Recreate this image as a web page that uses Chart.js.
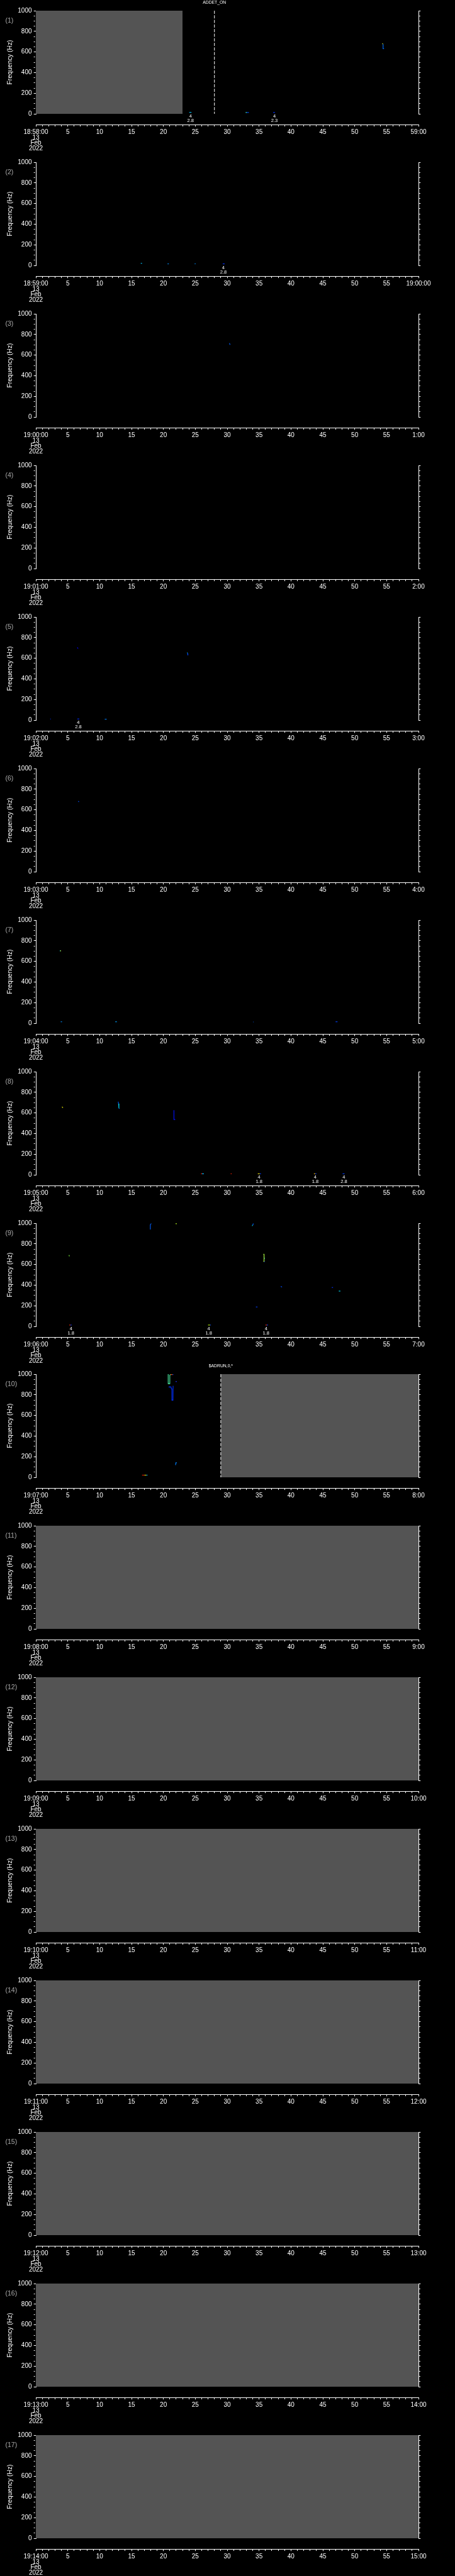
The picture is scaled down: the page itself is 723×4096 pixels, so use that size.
<!DOCTYPE html>
<html>
<head>
<meta charset="utf-8">
<script src="https://cdn.jsdelivr.net/npm/chart.js@4.4.0/dist/chart.umd.min.js"></script>
<style>
html, body { margin: 0; padding: 0; background: #000; }
#wrap { position: relative; width: 723px; height: 4096px; overflow: hidden; background: #000; }
canvas { position: absolute; left: 0; }
</style>
</head>
<body>
<div id="wrap"></div>
<script>
// time axis labels, one panel per minute
const panelStarts = ['18:58:00', '18:59:00', '19:00:00', '19:01:00', '19:02:00', '19:03:00', '19:04:00', '19:05:00', '19:06:00',
    '19:07:00', '19:08:00', '19:09:00', '19:10:00', '19:11:00', '19:12:00', '19:13:00', '19:14:00'];
const panelEnds = ['59:00', '19:00:00', '1:00', '2:00', '3:00', '4:00', '5:00', '6:00', '7:00',
    '8:00', '9:00', '10:00', '11:00', '12:00', '13:00', '14:00', '15:00'];
const dateLines = ['13', 'Feb', '2022'];

const freqMax = 1000, freqLabelStep = 200, freqMinorStep = 50;
const secMax = 60, secLabelStep = 5, secMinorStep = 1;

// no-data (gray) spans: panel index, from/to seconds
const grayPanel = [0, 9, 10, 11, 12, 13, 14, 15, 16];
const grayFrom = [0, 29, 0, 0, 0, 0, 0, 0, 0];
const grayTo = [23, 60, 60, 60, 60, 60, 60, 60, 60];

// dashed event markers
const markerPanel = [0, 9];
const markerTime = [28, 29];
const markerText = ['ADDET_ON', '$ADRUN,0,*'];

// small two-line notes under the plot
const notePanel = [0, 0, 1, 4, 7, 7, 7, 8, 8, 8];
const noteTime = [24.25, 37.4, 29.4, 6.65, 35.0, 43.8, 48.3, 5.5, 27.1, 36.1];
const noteTop = ['4', '4', '4', '4', '4', '4', '4', '4', '4', '4'];
const noteBottom = ['2.8', '2.3', '2.8', '2.8', '1.8', '1.8', '2.8', '1.8', '1.8', '1.8'];

// detected tones: panel, seconds, Hz, colour
const tracePanel = [0, 0, 0, 0, 0, 0,
    1, 1, 1, 1,
    2,
    4, 4, 4, 4, 4, 4,
    5,
    6, 6, 6, 6, 6, 6,
    7, 7, 7, 7, 7, 7, 7, 7, 7, 7, 7, 7, 7,
    8, 8, 8, 8, 8, 8, 8, 8, 8, 8, 8, 8, 8, 8, 8, 8, 8, 8,
    9, 9, 9, 9, 9, 9, 9, 9, 9];
const traceTime = [
    [24.05, 24.4], [32.9, 33.05], [33.05, 33.4], [37.2, 37.5], [54.33, 54.42], [54.45, 54.45, 54.6],
    [16.45, 16.65], [20.65, 20.85], [24.9, 25.05], [29.3, 29.6],
    [30.35, 30.45],
    [6.5, 6.62], [23.7, 23.8], [23.8, 23.82, 23.9], [2.25, 2.35], [6.5, 6.8], [10.8, 11.1],
    [6.65, 6.75],
    [3.75, 3.85], [3.85, 3.95], [3.9, 4.1], [12.45, 12.7], [34.08, 34.16], [47.0, 47.3],
    [4.1, 4.25], [12.92, 12.95], [12.98, 13.02], [13.02, 13.12], [21.65, 21.65, 21.85], [25.9, 26.05], [26.05, 26.35],
    [30.55, 30.7], [34.8, 35.1], [35.1, 35.3], [43.6, 43.8], [43.8, 44.0], [48.1, 48.4],
    [17.9, 17.95, 18.1], [21.9, 22.1], [33.9, 34.0], [34.0, 34.1], [35.68, 35.78, 35.78, 35.68], [35.82, 35.84],
    [35.82, 35.85], [5.2, 5.25], [38.4, 38.6], [46.4, 46.6], [47.5, 47.75], [34.5, 34.75], [5.25, 5.4], [5.4, 5.6],
    [27.0, 27.3], [27.3, 27.45], [36.0, 36.2], [36.2, 36.4],
    [20.75, 20.75, 21.0, 21.0, 21.1], [21.1, 21.4], [21.4, 21.56],
    [20.82, 21.2, 21.24, 21.33, 21.33, 21.5, 21.52, 21.56], [21.9, 22.1], [21.9, 21.95, 22.1],
    [16.65, 17.0], [17.0, 17.3], [17.3, 17.5]
];
const traceFreq = [
    [14, 14], [13, 13], [13, 13], [13, 13], [683, 676], [676, 631, 631],
    [20, 20], [15, 15], [15, 15], [15, 15],
    [716, 700],
    [705, 692], [652, 652], [650, 632, 632], [11, 11], [11, 11], [9, 9],
    [684, 676],
    [702, 702], [702, 702], [14, 14], [14, 14], [12, 12], [14, 14],
    [660, 650], [709, 690], [690, 645], [645, 642], [627, 536, 536], [10, 10], [10, 10],
    [10, 10], [10, 10], [10, 10], [10, 10], [10, 10], [10, 10],
    [943, 985, 997], [995, 995], [974, 980], [980, 997], [699, 699, 630, 630], [665, 655],
    [630, 622], [692, 679], [387, 381], [377, 377], [342, 342], [188, 188], [13, 13], [13, 13],
    [13, 13], [13, 13], [13, 13], [13, 13],
    [1000, 908, 908, 990, 996], [996, 996], [996, 996],
    [876, 876, 858, 858, 748, 748, 887, 887], [928, 928], [118, 141, 141],
    [21, 21], [21, 21], [21, 21]
];
const traceColor = [
    '#00c8ff', '#40ffd0', '#0050ff', '#0030ff', '#e8ff30', '#0070ff',
    '#00c8ff', '#0090ff', '#0090ff', '#0030ff',
    '#0060ff',
    '#0000e0', '#00e0e0', '#0040ff', '#0030ff', '#0030ff', '#0080ff',
    '#0050ff',
    '#20e0c0', '#e0f020', '#0090ff', '#00a0ff', '#0060ff', '#0040ff',
    '#f0f000', '#0050ff', '#00e0ff', '#0050ff', '#0010ff', '#ff2000', '#00c0ff',
    '#ff2000', '#f0e000', '#0040ff', '#ffc000', '#0040ff', '#0040ff',
    '#0060ff', '#c0ff20', '#00e0d0', '#0060ff', '#b0ff40', '#00c0ff',
    '#0030ff', '#80ff40', '#0050ff', '#0030ff', '#00e0ff', '#0040ff', '#ff3000', '#0040ff',
    '#c0ff00', '#0040ff', '#ff3000', '#0040ff',
    '#50ffb0', '#ff6000', '#2040ff',
    '#0030ff', '#2030ff', '#0080ff',
    '#e02000', '#f0e000', '#00c0ff'
];

const W = 723, PANEL_H = 4096 / 17, CANVAS_H = 241;
const PAD_TOP = 17, AREA_H = 164, GAP_H = 17, LEFT_W = 57, RIGHT_W = 58;
const TIME_H = CANVAS_H - PAD_TOP - AREA_H - GAP_H;
const FONT = 'Liberation Sans';

Chart.defaults.font.family = FONT;
Chart.defaults.color = '#ffffff';

function makeTicks(max, step) {
    const out = [];
    for (let v = 0; v <= max; v += step) out.push({ value: v });
    return out;
}

const panelNotes = {
    id: 'panelNotes',
    afterDraw(chart, args, opts) {
        const p = opts.panel;
        const ctx = chart.ctx;
        const xs = chart.scales.x;
        const area = chart.chartArea;
        ctx.save();
        ctx.textBaseline = 'middle';
        ctx.fillStyle = '#aaaaaa';
        ctx.font = `10.5px "${FONT}"`;
        ctx.textAlign = 'left';
        ctx.fillText(`(${p + 1})`, 8.5, area.top + 16);

        ctx.fillStyle = '#ffffff';
        ctx.textAlign = 'center';
        ctx.font = `7.5px "${FONT}"`;
        notePanel.forEach((np, i) => {
            if (np !== p) return;
            const px = xs.getPixelForValue(noteTime[i]);
            ctx.fillText(noteTop[i], px, area.bottom + 4.4);
            ctx.fillText(noteBottom[i], px, area.bottom + 10.8);
        });

        ctx.font = `6.8px "${FONT}"`;
        markerPanel.forEach((mp, i) => {
            if (mp !== p) return;
            ctx.fillText(markerText[i], xs.getPixelForValue(markerTime[i]), 4.5);
        });
        ctx.restore();
    }
};

function panelDatasets(p) {
    const sets = [];
    traceTime.forEach((times, i) => {
        if (tracePanel[i] !== p) return;
        sets.push({
            data: times.map((t, j) => ({ x: t, y: traceFreq[i][j] })),
            borderColor: traceColor[i],
            borderWidth: 1.1,
            pointRadius: 0,
            fill: false,
            order: 0
        });
    });
    markerPanel.forEach((mp, i) => {
        if (mp !== p) return;
        sets.push({
            data: [{ x: markerTime[i], y: freqMax }, { x: markerTime[i], y: 0 }],
            borderColor: '#ffffff',
            borderWidth: 1,
            borderDash: [5, 2.3],
            pointRadius: 0,
            fill: false,
            order: 1
        });
    });
    grayPanel.forEach((gp, i) => {
        if (gp !== p) return;
        sets.push({
            data: [{ x: grayFrom[i], y: freqMax }, { x: grayTo[i], y: freqMax }],
            borderColor: 'rgba(0,0,0,0)',
            borderWidth: 1,
            backgroundColor: '#545454',
            pointRadius: 0,
            fill: 'origin',
            order: 2
        });
    });
    return sets;
}

function yAxis(position, width, showLabels) {
    return {
        type: 'linear',
        position: position,
        min: 0,
        max: freqMax,
        afterBuildTicks: s => { s.ticks = makeTicks(freqMax, freqMinorStep); },
        afterFit: s => { s.width = width; },
        ticks: {
            autoSkip: false,
            display: showLabels,
            color: '#ffffff',
            padding: 3.2,
            font: { family: FONT, size: 10 },
            callback: v => (showLabels && v % freqLabelStep === 0 ? String(v) : '')
        },
        grid: {
            drawOnChartArea: false,
            color: '#ffffff',
            tickColor: '#ffffff',
            tickLength: 3.3,
            tickWidth: 1,
            tickBorderDash: ctx => (ctx.tick && ctx.tick.value % freqLabelStep !== 0 ? [1.9, 20] : [])
        },
        border: { color: '#ffffff', width: 1 },
        title: {
            display: showLabels,
            text: 'Frequency (Hz)',
            color: '#ffffff',
            font: { family: FONT, size: 10.3, lineHeight: 1.2 },
            padding: { top: 10, bottom: 0 }
        }
    };
}

function drawPanel(p) {
    const canvas = document.createElement('canvas');
    canvas.width = W;
    canvas.height = CANVAS_H;
    canvas.style.top = Math.round(p * PANEL_H) + 'px';
    document.getElementById('wrap').appendChild(canvas);

    new Chart(canvas.getContext('2d'), {
        type: 'line',
        data: { datasets: panelDatasets(p) },
        options: {
            responsive: false,
            animation: false,
            events: [],
            layout: { padding: { top: PAD_TOP, left: 0, right: 0, bottom: 0 } },
            plugins: {
                legend: { display: false },
                tooltip: { enabled: false },
                panelNotes: { panel: p }
            },
            scales: {
                x: {
                    type: 'linear',
                    position: 'bottom',
                    weight: 0,
                    min: 0,
                    max: secMax,
                    afterFit: s => { s.height = GAP_H; },
                    ticks: { display: false },
                    grid: { display: false },
                    border: { display: false }
                },
                t: {
                    type: 'linear',
                    position: 'bottom',
                    weight: 1,
                    min: 0,
                    max: secMax,
                    afterBuildTicks: s => { s.ticks = makeTicks(secMax, secMinorStep); },
                    afterFit: s => { s.height = TIME_H; },
                    ticks: {
                        autoSkip: false,
                        maxRotation: 0,
                        minRotation: 0,
                        color: '#ffffff',
                        padding: 4.85,
                        font: { family: FONT, size: 10, lineHeight: 0.85 },
                        callback: v => {
                            if (v === 0) return [panelStarts[p], ...dateLines];
                            if (v === secMax) return panelEnds[p];
                            return v % secLabelStep === 0 ? String(v) : '';
                        }
                    },
                    grid: {
                        drawOnChartArea: false,
                        color: '#ffffff',
                        tickColor: '#ffffff',
                        tickLength: 3.3,
                        tickWidth: 1,
                        tickBorderDash: ctx => (ctx.tick && ctx.tick.value % secLabelStep !== 0 ? [2.1, 20] : [])
                    },
                    border: { color: '#ffffff', width: 1 }
                },
                y: yAxis('left', LEFT_W, true),
                yr: yAxis('right', RIGHT_W, false)
            }
        },
        plugins: [panelNotes]
    });
}

for (let p = 0; p < panelStarts.length; p++) drawPanel(p);
</script>
</body>
</html>
